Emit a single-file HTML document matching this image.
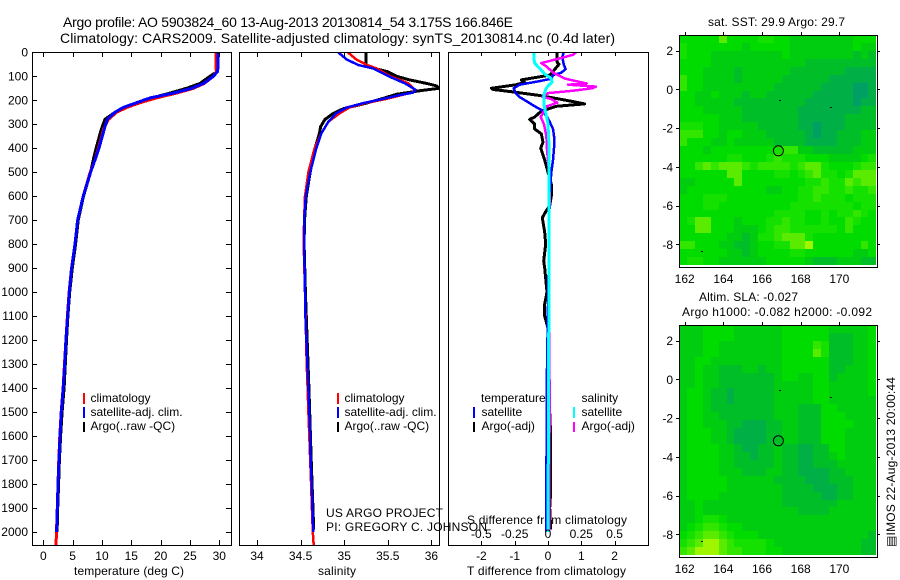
<!DOCTYPE html>
<html>
<head>
<meta charset="utf-8">
<title>Argo profile</title>
<style>
html,body{margin:0;padding:0;background:#fff;}
svg{display:block;}
text{font-family:"Liberation Sans",sans-serif;font-size:12px;fill:#000;}
</style>
</head>
<body>
<svg id="chart" xmlns="http://www.w3.org/2000/svg" width="900" height="580" viewBox="0 0 900 580">
  <rect x="0" y="0" width="900" height="580" fill="#fff"/>
  <defs>
    <clipPath id="clip-temp"><rect x="32" y="52" width="199" height="493"/></clipPath>
    <clipPath id="clip-sal"><rect x="239" y="52" width="201" height="493"/></clipPath>
    <clipPath id="clip-diff"><rect x="448" y="52" width="201" height="493"/></clipPath>
  </defs>
  <text x="63" y="27" style="font-size:14px" textLength="450" lengthAdjust="spacing">Argo profile: AO 5903824_60 13-Aug-2013 20130814_54 3.175S 166.846E</text>
  <text x="60" y="43" style="font-size:14px" textLength="555" lengthAdjust="spacing">Climatology: CARS2009. Satellite-adjusted climatology: synTS_20130814.nc (0.4d later)</text>

  <text x="74" y="575" textLength="110" lengthAdjust="spacing">temperature (deg C)</text>
  <text x="318" y="575" textLength="38" lengthAdjust="spacing">salinity</text>
  <text x="467" y="575" textLength="159" lengthAdjust="spacing">T difference from climatology</text>
  <text x="467" y="524" textLength="160" lengthAdjust="spacing">S difference from climatology</text>

  <g>
    <rect x="83" y="393" width="2" height="11" fill="#f00"/>
    <text x="90.5" y="402">climatology</text>
    <rect x="83" y="407" width="2" height="11" fill="#00f"/>
    <text x="90.5" y="416">satellite-adj. clim.</text>
    <rect x="83" y="422" width="2" height="10" fill="#000"/>
    <text x="90.5" y="430">Argo(..raw -QC)</text>
  </g>
  <g>
    <rect x="337" y="393" width="2" height="11" fill="#f00"/>
    <text x="344.5" y="402">climatology</text>
    <rect x="337" y="407" width="2" height="11" fill="#00f"/>
    <text x="344.5" y="416">satellite-adj. clim.</text>
    <rect x="337" y="422" width="2" height="10" fill="#000"/>
    <text x="344.5" y="430">Argo(..raw -QC)</text>
  </g>
  <g>
    <text x="481" y="402">temperature</text>
    <rect x="473" y="407" width="2" height="11" fill="#00f"/>
    <text x="481.5" y="416">satellite</text>
    <rect x="473" y="422" width="2" height="10" fill="#000"/>
    <text x="481.5" y="430">Argo(-adj)</text>
    <text x="581.5" y="402">salinity</text>
    <rect x="573" y="407" width="2" height="11" fill="#0ff"/>
    <text x="581.5" y="416">satellite</text>
    <rect x="573" y="422" width="2" height="10" fill="#f0f"/>
    <text x="581.5" y="430">Argo(-adj)</text>
  </g>

  <text x="708" y="26" textLength="137" lengthAdjust="spacing">sat. SST: 29.9 Argo: 29.7</text>
  <text x="699" y="301" textLength="99" lengthAdjust="spacing">Altim. SLA: -0.027</text>
  <text x="682" y="316" textLength="190" lengthAdjust="spacing">Argo h1000: -0.082 h2000: -0.092</text>
  <text transform="translate(895,547) rotate(-90)" textLength="170" lengthAdjust="spacing">▤IMOS 22-Aug-2013 20:00:44</text>
  <g id="layer"></g>
  <text x="326" y="517" textLength="117" lengthAdjust="spacing">US ARGO PROJECT</text>
  <text x="326" y="531" textLength="161" lengthAdjust="spacing">PI: GREGORY C. JOHNSON</text>
</svg>
<script>
// ---------- profile data ----------
var tempDepths = [0,60,80,100,130,150,170,190,210,230,250,280,320,400,450,500,600,700,800,900,1000,1100,1200,1300,1400,1500,1600,1700,1800,1900,2000];
var tempSatellite = [29.8,29.8,29.7,29.0,27.3,25.3,22.2,18.2,15.9,13.6,12.2,10.9,10.4,9.5,8.8,8.07,6.8,5.85,5.4,4.83,4.43,4.15,3.86,3.64,3.4,3.07,2.84,2.67,2.5,2.39,2.27];
var tempArgo = [29.7,29.7,29.7,28.4,26.7,24.4,21.6,18.5,16.5,13.6,12.2,10.5,9.9,9.0,8.5,8.07,6.85,5.95,5.5,4.95,4.5,4.2,3.95,3.75,3.55,3.2,2.95,2.75,2.6,2.45,2.35];
var tempClimDepths = [0,60,80,100,130,150,170,190,210,230,250,280,320,400,450,500,600,700,800,900,1000,1100,1200,1300,1400,1500,1600,1700,1800,1900,2000,2055];
var tempClim = [29.4,29.4,29.5,29.0,27.4,25.6,22.7,19.3,16.5,14.2,12.5,11.1,10.3,9.4,8.8,8.0,6.8,5.85,5.4,4.8,4.4,4.1,3.85,3.62,3.38,3.05,2.82,2.65,2.5,2.38,2.25,2.16];

var salSatDepths = [0,30,53,67,100,130,157,168,178,194,212,230,254,289,337,400,500,600,700,800,1000,1100,1200,1300,1400,1500,1600,1700,1800,1900,2000];
var salSatellite = [34.93,35.03,35.16,35.33,35.51,35.70,35.82,35.79,35.64,35.45,35.22,35.03,34.91,34.82,34.74,34.68,34.61,34.56,34.54,34.54,34.55,34.555,34.566,34.577,34.59,34.6,34.61,34.615,34.627,34.635,34.646];
var salClimDepths = [0,30,53,67,100,130,157,168,178,194,212,230,254,289,337,400,500,600,700,800,1000,1300,1400,1500,1600,1700,1800,1900,2000,2055];
var salClim = [35.04,35.14,35.26,35.37,35.53,35.74,35.81,35.78,35.66,35.49,35.24,35.06,34.95,34.82,34.74,34.66,34.59,34.55,34.54,34.535,34.55,34.57,34.58,34.59,34.6,34.61,34.62,34.63,34.64,34.65];
var salArgoDepths = [0,55,67,80,100,115,130,140,150,160,175,195,215,235,255,280,310,340,400,500,600,700,800,1000,1400,1700,1990];
var salArgo = [35.25,35.25,35.35,35.49,35.6,35.75,35.95,36.06,36.09,35.87,35.6,35.42,35.22,34.99,34.875,34.78,34.73,34.715,34.665,34.61,34.565,34.545,34.54,34.555,34.595,34.622,34.65];

var diffTArgoDepths = [0,40,50,80,95,115,125,135,150,155,165,180,200,215,225,245,270,280,300,320,340,375,400,450,500,550,600,640,660,690,750,800,870,900,1000,1050,1100,1150,1300,1500,1600,1830,1900,1990];
var diffTArgo = [0.27,0.27,0.33,0.15,0.05,-0.8,-0.7,-0.95,-1.7,-1.65,-1.05,-0.25,0.55,1.1,0.25,-0.2,-0.4,-0.55,-0.4,-0.4,-0.2,-0.15,-0.22,-0.1,0,0.1,0.1,0.05,-0.05,-0.17,-0.1,-0.07,-0.13,-0.1,-0.03,-0.1,-0.1,0,0,0.05,0.08,0.08,0.05,0.08];
var diffTSatDepths = [0,20,50,70,85,95,110,120,135,150,170,185,205,225,240,265,290,320,350,400,450,500,600,800,1400,2000];
var diffTSat = [0.47,0.43,0.47,0.53,0.4,0.15,0.1,-0.25,-0.85,-1.03,-0.97,-0.87,-0.63,-0.4,-0.2,-0.05,0.05,0.15,0.18,0.18,0.15,0.1,0.05,0.03,-0.04,-0.05];
var diffSArgoDepths = [0,10,25,45,60,85,110,130,135,143,150,160,170,185,195,210,225,240,270,300,350,400,450,500,600,800,1500,2000];
var diffSArgo = [0.21,0.19,0.09,-0.05,-0.01,0.04,0.13,0.29,0.15,0.36,0.33,0.19,0,-0.04,0.025,0.07,-0.01,-0.025,-0.055,-0.03,-0.012,-0.008,0,0.008,0.012,0.008,0.012,0.008];
var diffSSatDepths = [0,30,45,60,90,110,125,140,155,175,220,250,300,400,500,800,2000];
var diffSSat = [-0.105,-0.105,-0.1,-0.075,-0.025,0.025,0.03,0,-0.018,-0.03,-0.03,-0.018,0,0.008,0.008,0.008,0];

// ---------- tick labels ----------
var depthTicks = [0,100,200,300,400,500,600,700,800,900,1000,1100,1200,1300,1400,1500,1600,1700,1800,1900,2000];
var tempTicks = [0,5,10,15,20,25,30];
var salTicks = [34,34.5,35,35.5,36];
var diffTTicks = [-2,-1,0,1,2];
var diffSTicks = [-0.5,-0.25,0,0.25,0.5];
var lonTicks = [162,164,166,168,170];
var latTicks = [2,0,-2,-4,-6,-8];

// ---------- map data (colour level per grid cell; 0 = coolest/lowest) ----------
var sstRows = [
"44444 74444 55443 33333 33444",
"54444 44434 44443 33333 33433",
"54443 33333 33343 33333 33232",
"44443 33333 33333 32222 22222",
"44433 33233 33332 22222 21111",
"64433 33233 33322 22221 11111",
"64433 33333 33222 22211 11001",
"44334 33323 32222 22111 11001",
"44333 33222 22222 21111 11011",
"44433 33322 22222 11111 11122",
"44444 33322 22222 11111 12222",
"55544 33333 22222 11011 12222",
"66644 34433 32222 21011 22233",
"64443 34333 33222 21111 22233",
"44434 44444 44566 33222 22333",
"44444 45544 45655 54443 33345",
"44676 77765 66665 67754 44566",
"44444 47744 44554 56755 45777",
"33444 44744 44444 45565 57677",
"34444 44444 43344 55665 56556",
"44455 54444 44444 55655 54555",
"44455 44444 44445 55555 55455",
"44444 44444 44555 54454 55654",
"45774 44344 45565 54454 46544",
"44774 44333 45665 55555 46444",
"44444 43323 55677 75444 44444",
"66444 33223 44557 78444 44464",
"44444 43323 44445 54444 44334",
"45544 33333 34444 43222 33322"
];
var slaRows = [
"33344 44333 33344 44443 33334",
"33344 44333 33344 44442 22334",
"33344 33333 33344 44652 22334",
"33344 33333 33344 44752 22334",
"33443 33333 33344 44442 22334",
"33433 22233 23344 44442 23334",
"33433 22222 22344 33442 33334",
"33433 22222 22333 33443 33334",
"34432 21222 22333 33443 33334",
"34432 21222 22333 33443 33333",
"34432 22222 22333 22244 33333",
"34433 22222 22333 22244 43333",
"34433 32211 12233 22244 44333",
"34443 32111 12233 22244 43333",
"34443 32111 12233 22244 43333",
"34444 33211 22322 11224 43333",
"34444 33221 22322 11223 43333",
"34444 33222 22322 11222 33333",
"34444 33322 23322 11112 23333",
"34444 43333 33222 21112 22333",
"34444 43333 33322 22111 22333",
"34444 33333 33322 22211 22333",
"33433 33333 33322 22222 33333",
"33433 33333 33333 22223 33333",
"33455 43333 33333 33333 33333",
"34566 54433 33333 33333 33333",
"45677 65444 33333 33333 33332",
"56788 76555 54333 33333 33322",
"67888 76655 54433 33333 33322"
];
var floatLon = [166.846];
var floatLat = [-3.175];
var markLon = [166.95,169.55,162.9];
var markLat = [-0.53,-0.93,-8.35];

// ---------- axis functions ----------
function yDepth(d){return 52.3+d*0.2398;}
function xTemp(t){return 43.3+t*5.867;}
function xSal(s){return 257+(s-34)*87.2;}
function xDiffT(t){return 548+t*33.3;}
function xDiffS(s){return 548+s*133.2;}
function xLon(l){return 684.7+(l-162)*19.33;}
function yLat(top,l){return top+54.3-l*19.37;}
var palette = ['#00a064','#00af46','#00be28','#00cd0f','#00dc00','#14e100','#32e600','#5aeb00','#a0f500','#ffff00'];

var NS='http://www.w3.org/2000/svg';
var layer=document.getElementById('layer');
function mk(tag,attrs,txt){
  var e=document.createElementNS(NS,tag);
  for(var k in attrs){e.setAttribute(k,attrs[k]);}
  if(txt!==undefined){e.textContent=txt;}
  layer.appendChild(e);
  return e;
}
function hline(x1,x2,y){return mk('line',{x1:x1,x2:x2,y1:Math.round(y)+0.5,y2:Math.round(y)+0.5,stroke:'#000','stroke-width':1,'shape-rendering':'crispEdges'});}
function vline(x,y1,y2){return mk('line',{x1:Math.round(x)+0.5,x2:Math.round(x)+0.5,y1:y1,y2:y2,stroke:'#000','stroke-width':1,'shape-rendering':'crispEdges'});}
function series(depths,vals,xf,color,w,clip){
  var pts=[];
  for(var i=0;i<vals.length;i++){pts.push(xf(vals[i]).toFixed(1)+','+yDepth(depths[i]).toFixed(1));}
  return mk('polyline',{points:pts.join(' '),fill:'none',stroke:color,'stroke-width':w,'stroke-linejoin':'round','shape-rendering':'crispEdges','clip-path':'url(#'+clip+')'});
}
function frame(x,y,w,h){return mk('rect',{x:x+0.5,y:y+0.5,width:w,height:h,fill:'none',stroke:'#000','stroke-width':1,'shape-rendering':'crispEdges'});}
var el,i,j;

// ---------- temperature panel ----------
el=series(tempDepths,tempArgo,xTemp,'#000',3,'clip-temp');


el=series(tempClimDepths,tempClim,xTemp,'#f00',3,'clip-temp');


el=series(tempDepths,tempSatellite,xTemp,'#00f',3,'clip-temp');


el=frame(32,52,199,493);


depthTicks.forEach(function(d){
  var t=hline(32,37,yDepth(d));
  
  
  t=hline(226,231,yDepth(d));
  
  
  t=mk('text',{x:28,y:yDepth(d)+4,'text-anchor':'end'},String(d));
  
  
});
tempTicks.forEach(function(v){
  var t=vline(xTemp(v),52,57);
  
  
  t=vline(xTemp(v),540,545);
  
  
  t=mk('text',{x:xTemp(v),y:560,'text-anchor':'middle'},String(v));
  
  
});

// ---------- salinity panel ----------
el=series(salArgoDepths,salArgo,xSal,'#000',3,'clip-sal');


el=series(salClimDepths,salClim,xSal,'#f00',2.5,'clip-sal');


el=series(salSatDepths,salSatellite,xSal,'#00f',2.5,'clip-sal');


el=frame(239,52,200,493);


salTicks.forEach(function(v){
  var t=vline(xSal(v),52,57);
  
  
  t=vline(xSal(v),540,545);
  
  
  t=mk('text',{x:xSal(v),y:560,'text-anchor':'middle'},String(v));
  
  
});

// ---------- difference panel ----------
el=series(diffTArgoDepths,diffTArgo,xDiffT,'#000',3,'clip-diff');


el=series(diffTSatDepths,diffTSat,xDiffT,'#00f',2.5,'clip-diff');


el=series(diffSArgoDepths,diffSArgo,xDiffS,'#f0f',2.5,'clip-diff');


el=series(diffSSatDepths,diffSSat,xDiffS,'#0ff',3,'clip-diff');


el=frame(448,52,200,493);


diffTTicks.forEach(function(v){
  var t=vline(xDiffT(v),52,56);
  
  
  t=vline(xDiffT(v),541,545);
  
  
  t=mk('text',{x:xDiffT(v),y:560,'text-anchor':'middle'},String(v));
  
  
});
diffSTicks.forEach(function(v){
  var t=mk('text',{x:xDiffS(v),y:538,'text-anchor':'middle'},String(v));
  
  
});

// ---------- maps ----------
function drawMap(rows,top,name){
  var lat0=2.803,dLat=0.4095,lon0=161.72,dLon=0.4077;
  rows.forEach(function(row,r){
    var cells=row.replace(/ /g,'');
    for(var c=0;c<cells.length;c++){
      var x1=xLon(lon0+c*dLon),x2=xLon(lon0+(c+1)*dLon);
      var y1=yLat(top,lat0-r*dLat),y2=yLat(top,lat0-(r+1)*dLat);
      var cell=mk('rect',{x:Math.round(x1),y:Math.round(y1),width:Math.round(x2)-Math.round(x1),height:Math.round(y2)-Math.round(y1),fill:palette[+cells.charAt(c)],'shape-rendering':'crispEdges'});
      
      
    }
  });
  var f=frame(679,top,198,232);
  
  
  lonTicks.forEach(function(v){
    var t=vline(xLon(v),top-3,top);
    
    
    t=mk('text',{x:xLon(v),y:top+248,'text-anchor':'middle'},String(v));
    
    
  });
  latTicks.forEach(function(v){
    var y=yLat(top,v);
    var t=hline(676,679,y);
    
    
    t=hline(877,880,y);
    
    
    t=mk('text',{x:673,y:y+4.5,'text-anchor':'end'},String(v));
    
    
  });
  markLon.forEach(function(v,k){
    var m=mk('rect',{x:Math.round(xLon(v))-1,y:Math.round(yLat(top,markLat[k])),width:2,height:1,fill:'#000','shape-rendering':'crispEdges'});
    
    
  });
  floatLon.forEach(function(v,k){
    var p=mk('circle',{cx:xLon(v),cy:yLat(top,floatLat[k]),r:5,fill:'none',stroke:'#000','stroke-width':1});
    
    
  });
}
drawMap(sstRows,35,'sst');
drawMap(slaRows,325,'sla');
</script>
</body>
</html>
